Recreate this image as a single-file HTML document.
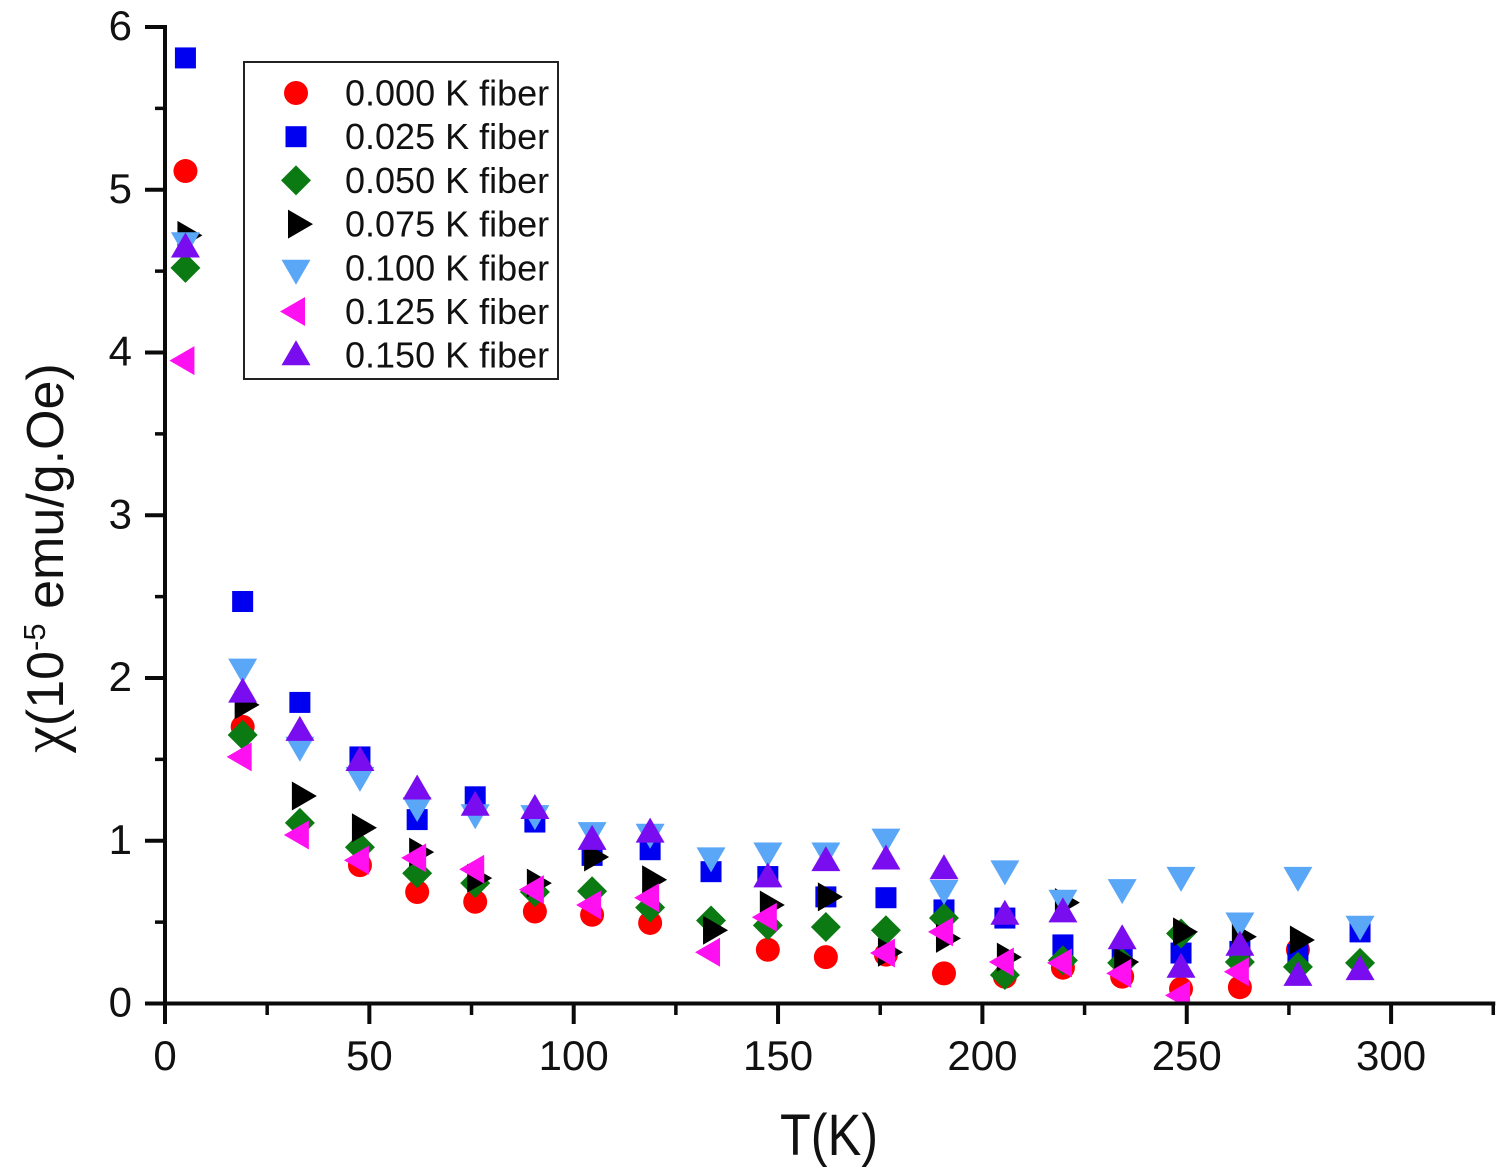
<!DOCTYPE html>
<html>
<head>
<meta charset="utf-8">
<title>Magnetic susceptibility vs temperature</title>
<style>
  html, body { margin: 0; padding: 0; background: #fff; }
  svg { display: block; font-family: "Liberation Sans", sans-serif; }
</style>
</head>
<body>
<svg id="chart" width="1508" height="1174" viewBox="0 0 1508 1174" xmlns="http://www.w3.org/2000/svg">
  <defs>
    <clipPath id="plot-clip"><rect x="167" y="0" width="1341" height="1003"></rect></clipPath>
  </defs>
  <rect width="1508" height="1174" fill="#fff"></rect>
  <g id="series-layer" clip-path="url(#plot-clip)"></g>
  <g id="axis-layer"></g>
  <text transform="translate(829,1155) scale(0.97,1.12)" font-size="52" text-anchor="middle" fill="#111">T(K)</text>
  <text transform="translate(63,558) rotate(-90)" font-size="52" text-anchor="middle" fill="#111"><tspan font-family="Liberation Serif" font-size="60">χ</tspan>(10<tspan dy="-18" font-size="31">-5</tspan><tspan dy="18"> emu/g.Oe)</tspan></text>
  <g>
    <rect x="244" y="62" width="314" height="317" fill="#fff" stroke="#222" stroke-width="2"></rect>
    <g id="legend-layer"></g>
  </g>
</svg>
<script>
const temperatures = [5, 19, 33, 47.7, 61.7, 75.9, 90.5, 104.5, 118.7, 133.6, 147.5, 161.7, 176.4, 190.6, 205.5, 219.7, 234.2, 248.6, 263, 277.2, 292.4];
const seriesNames = ["0.000 K fiber", "0.025 K fiber", "0.050 K fiber", "0.075 K fiber", "0.100 K fiber", "0.125 K fiber", "0.150 K fiber"];
const fiber000 = [5.115, 1.70, null, 0.85, 0.685, 0.625, 0.565, 0.545, 0.495, null, 0.33, 0.285, 0.30, 0.185, 0.165, 0.22, 0.165, 0.09, 0.10, 0.33, null];
const fiber025 = [5.81, 2.47, 1.85, 1.515, 1.13, 1.27, 1.115, 0.91, 0.945, 0.81, 0.78, 0.655, 0.65, 0.575, 0.525, 0.36, 0.30, 0.31, 0.32, 0.30, 0.44];
const fiber050 = [4.52, 1.65, 1.11, 0.96, 0.80, 0.74, 0.685, 0.69, 0.59, 0.51, 0.48, 0.47, 0.45, 0.525, 0.175, 0.265, 0.25, 0.43, 0.255, 0.225, 0.25];
const fiber075 = [4.72, 1.835, 1.275, 1.08, 0.93, 0.77, 0.74, 0.90, 0.76, 0.45, 0.605, 0.655, 0.315, 0.40, 0.285, 0.62, 0.255, 0.44, 0.41, 0.39, null];
const fiber100 = [4.69, 2.07, 1.59, 1.405, 1.22, 1.175, 1.17, 1.065, 1.055, 0.91, 0.94, 0.94, 1.025, 0.71, 0.83, 0.65, 0.715, 0.79, 0.51, 0.79, 0.49];
const fiber125 = [3.95, 1.515, 1.035, 0.88, 0.895, 0.825, 0.70, 0.605, 0.65, 0.315, 0.53, null, 0.31, 0.44, 0.255, 0.25, 0.185, 0.05, 0.195, null, null];
const fiber150 = [4.645, 1.91, 1.675, 1.49, 1.315, 1.215, 1.195, 1.005, 1.05, null, 0.775, 0.875, 0.885, 0.825, 0.545, 0.56, 0.395, 0.22, 0.355, 0.17, 0.205];
const xMajorTicks = [0, 50, 100, 150, 200, 250, 300];
const xMinorTicks = [25, 75, 125, 175, 225, 275, 325];
const yMajorTicks = [0, 1, 2, 3, 4, 5, 6];
const yMinorTicks = [0.5, 1.5, 2.5, 3.5, 4.5, 5.5];

const NS = "http://www.w3.org/2000/svg";
const xScale = t => 165 + t * 4.087;
const yScale = v => 1003.5 - v * 162.75;

function shapeEl(kind, cx, cy, color) {
  let el;
  if (kind === "circle") {
    el = document.createElementNS(NS, "circle");
    el.setAttribute("cx", cx);
    el.setAttribute("cy", cy);
    el.setAttribute("r", 12);
  } else if (kind === "square") {
    el = document.createElementNS(NS, "rect");
    el.setAttribute("x", cx - 10.5);
    el.setAttribute("y", cy - 10.5);
    el.setAttribute("width", 21);
    el.setAttribute("height", 21);
  } else {
    el = document.createElementNS(NS, "polygon");
    let pts;
    if (kind === "diamond") pts = [[0, -15], [15, 0], [0, 15], [-15, 0]];
    if (kind === "right") pts = [[-8, -14.5], [17, 0], [-8, 14.5]];
    if (kind === "down") pts = [[-14.5, -8], [14.5, -8], [0, 17]];
    if (kind === "left") pts = [[9, -14.5], [9, 14.5], [-16, 0]];
    if (kind === "up") pts = [[0, -15], [14.5, 10], [-14.5, 10]];
    el.setAttribute("points", pts.map(p => (cx + p[0]) + "," + (cy + p[1])).join(" "));
  }
  el.setAttribute("fill", color);
  return el;
}

const seriesValues = [fiber000, fiber025, fiber050, fiber075, fiber100, fiber125, fiber150];
const seriesShapes = ["circle", "square", "diamond", "right", "down", "left", "up"];
const seriesColors = ["#ff0000", "#0000f0", "#0b7a12", "#000000", "#5aa6f7", "#ff10f0", "#7a0cf0"];

const seriesLayer = document.getElementById("series-layer");
seriesValues.forEach((vals, i) => {
  const g = document.createElementNS(NS, "g");
  
  
  vals.forEach((v, j) => {
    if (v === null) return;
    const m = shapeEl(seriesShapes[i], xScale(temperatures[j]), yScale(v), seriesColors[i]);
    
    
    g.appendChild(m);
  });
  seriesLayer.appendChild(g);
});

const axisLayer = document.getElementById("axis-layer");
function line(x1, y1, x2, y2, w) {
  const l = document.createElementNS(NS, "line");
  l.setAttribute("x1", x1);
  l.setAttribute("y1", y1);
  l.setAttribute("x2", x2);
  l.setAttribute("y2", y2);
  l.setAttribute("stroke", "#0a0a0a");
  l.setAttribute("stroke-width", w);
  axisLayer.appendChild(l);
  return l;
}
const xAxisLine = line(163, yScale(0), xScale(325) + 2, yScale(0), 4);


const yAxisLine = line(165, yScale(6) - 2, 165, yScale(0) + 2, 4);



xMajorTicks.forEach(t => {
  const tick = line(xScale(t), yScale(0), xScale(t), 1024, 4);
  
  
  const label = document.createElementNS(NS, "text");
  
  
  label.setAttribute("x", xScale(t));
  label.setAttribute("y", 1070);
  label.setAttribute("font-size", 42);
  label.setAttribute("text-anchor", "middle");
  label.setAttribute("fill", "#111");
  label.textContent = t;
  axisLayer.appendChild(label);
});
xMinorTicks.forEach(t => {
  const tick = line(xScale(t), yScale(0), xScale(t), 1015, 3.5);
  
  
});
yMajorTicks.forEach(v => {
  const tick = line(145, yScale(v), 165, yScale(v), 4);
  
  
  const label = document.createElementNS(NS, "text");
  
  
  label.setAttribute("x", 132);
  label.setAttribute("y", yScale(v) + 13);
  label.setAttribute("font-size", 42);
  label.setAttribute("text-anchor", "end");
  label.setAttribute("fill", "#111");
  label.textContent = v;
  axisLayer.appendChild(label);
});
yMinorTicks.forEach(v => {
  const tick = line(155, yScale(v), 165, yScale(v), 3.5);
  
  
});

const legendLayer = document.getElementById("legend-layer");
seriesNames.forEach((name, i) => {
  const rowY = 93 + i * 43.7;
  const sym = shapeEl(seriesShapes[i], 296, rowY, seriesColors[i]);
  
  
  legendLayer.appendChild(sym);
  const txt = document.createElementNS(NS, "text");
  
  
  txt.setAttribute("x", 345);
  txt.setAttribute("y", rowY + 12.5);
  txt.setAttribute("font-size", 36);
  txt.setAttribute("fill", "#111");
  txt.textContent = name;
  legendLayer.appendChild(txt);
});
</script>
</body>
</html>
